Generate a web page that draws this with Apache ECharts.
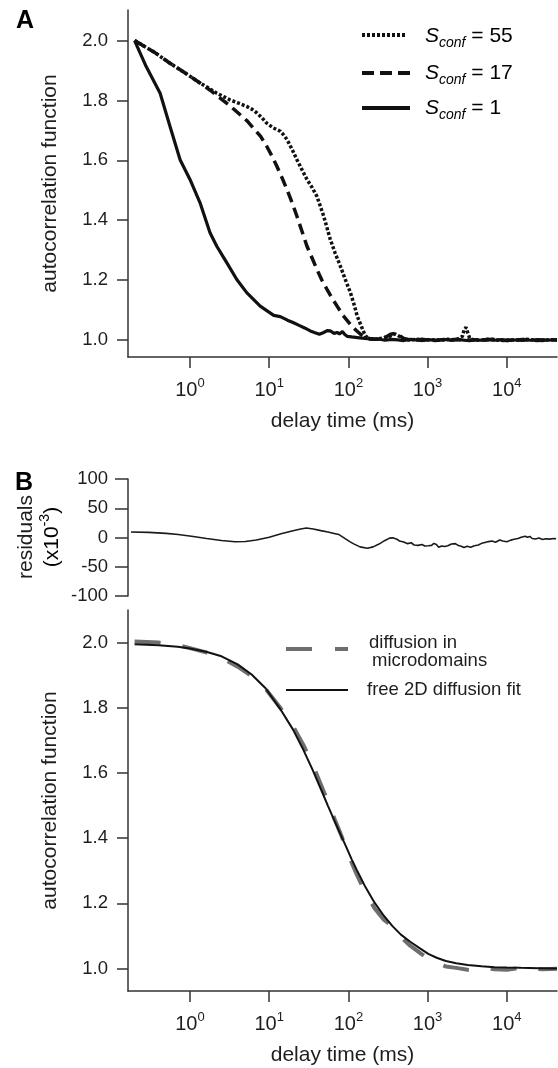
<!DOCTYPE html>
<html><head><meta charset="utf-8">
<script src="https://cdn.jsdelivr.net/npm/echarts@6/dist/echarts.min.js"></script>
<style>html,body{margin:0;padding:0;background:#fff}#c{width:558px;height:1068px}</style>
</head><body><div id="c"></div>
<script>
// ---- tick values ----
const xTicks = [1, 10, 100, 1000, 10000];
const yTicksMain = [1.0, 1.2, 1.4, 1.6, 1.8, 2.0];
const residTicks = [-100, -50, 0, 50, 100];

// ---- Panel A: [delay time (ms), G] ----
const sconf1 = [[0.2,2.000],[0.28,1.913],[0.42,1.824],[0.56,1.713],[0.75,1.602],[1.0,1.536],[1.34,1.458],[1.79,1.358],[2.18,1.313],[2.91,1.258],[3.9,1.202],[5.2,1.158],[7.7,1.113],[11.4,1.082],[13.8,1.078],[17,1.066],[20,1.058],[24.6,1.047],[28,1.040],[33,1.030],[38,1.024],[43,1.019],[48,1.024],[54,1.031],[59,1.030],[66,1.022],[72,1.025],[77,1.020],[84,1.028],[90,1.018],[97,1.012],[110,1.010],[130,1.008],[150,1.006],[175,1.004],[200,1.002],[240,1.003],[290,0.999],[350,1.002],[420,1.000],[500,0.998],[600,1.002],[720,1.000],[860,0.998],[1000,1.001],[1300,0.999],[1600,1.002],[2000,0.999],[2500,1.001],[3100,0.998],[3800,1.001],[4600,0.999],[5600,1.002],[7000,0.999],[8500,1.001],[10000,0.998],[13000,1.000],[16000,1.002],[20000,0.999],[25000,1.001],[31000,0.999],[37000,1.000],[43000,1.000]];
const sconf17 = [[0.2,2.000],[0.35,1.962],[0.56,1.924],[0.9,1.889],[1.34,1.858],[1.8,1.834],[2.4,1.808],[3.2,1.782],[4.3,1.752],[5.3,1.731],[6.3,1.708],[7.8,1.680],[9.3,1.647],[10.8,1.615],[12.5,1.580],[14.5,1.542],[16.8,1.502],[19.5,1.458],[22.4,1.413],[26,1.362],[30,1.313],[35,1.272],[40,1.236],[46,1.201],[53.7,1.169],[62,1.140],[72,1.113],[85,1.083],[106,1.052],[124,1.033],[142,1.019],[160,1.010],[185,1.005],[220,1.002],[260,1.004],[300,1.010],[340,1.019],[390,1.022],[440,1.015],[500,1.005],[580,1.001],[700,0.999],[850,1.002],[1000,1.000],[1250,0.998],[1550,1.001],[1900,0.999],[2300,1.002],[2800,1.000],[3400,0.998],[4200,1.001],[5200,0.999],[6500,1.002],[8000,1.000],[10000,0.998],[12500,1.001],[15500,0.999],[19500,1.001],[24000,0.998],[30000,1.000],[37000,1.001],[43000,1.000]];
const sconf55 = [[0.2,2.000],[0.35,1.962],[0.56,1.924],[0.9,1.889],[1.34,1.858],[1.75,1.840],[2.18,1.824],[2.7,1.812],[3.2,1.802],[4.2,1.790],[5.2,1.780],[6.1,1.770],[7.0,1.758],[8.1,1.742],[9.3,1.724],[11.3,1.708],[13.8,1.697],[15.2,1.685],[16.8,1.669],[19.5,1.636],[22.4,1.602],[26,1.568],[30,1.536],[35,1.508],[40,1.480],[44,1.448],[48.8,1.413],[53.5,1.376],[59,1.336],[68,1.290],[79,1.247],[91,1.203],[106,1.158],[118,1.118],[129,1.080],[146,1.045],[164,1.013],[185,1.004],[220,1.002],[270,1.006],[330,1.012],[390,1.020],[440,1.012],[500,1.003],[600,1.000],[750,1.002],[900,0.999],[1100,1.001],[1400,0.999],[1800,1.002],[2300,1.000],[2750,1.012],[2900,1.035],[3050,1.042],[3200,1.025],[3400,1.006],[3800,1.000],[4700,0.999],[5800,1.002],[7200,1.000],[9000,0.998],[11000,1.001],[14000,0.999],[17500,1.002],[22000,1.000],[28000,0.998],[35000,1.001],[43000,1.000]];

// ---- Panel B ----
const microdomains = [[0.2,2.003],[0.4,2.000],[0.7,1.992],[1.0,1.983],[1.6,1.970],[2.5,1.953],[4.0,1.926],[6.0,1.897],[9.0,1.858],[13.8,1.800],[20,1.743],[27,1.686],[35,1.628],[45,1.564],[55,1.512],[67,1.458],[80,1.413],[92,1.374],[110,1.325],[128,1.288],[160,1.237],[214,1.185],[280,1.150],[360,1.129],[460,1.097],[603,1.070],[800,1.048],[1020,1.029],[1300,1.020],[1700,1.006],[2300,1.002],[3200,0.996],[4000,0.994],[4800,0.995],[6000,1.000],[7000,0.998],[10000,0.996],[13000,1.000],[17000,1.003],[21000,1.000],[28000,0.998],[43000,0.999]];
const freeFit = [[0.2,1.995],[0.4,1.992],[0.7,1.987],[1.0,1.982],[1.6,1.972],[2.5,1.958],[4.0,1.933],[6.0,1.902],[9.0,1.860],[13.8,1.796],[20,1.733],[27,1.671],[35,1.612],[45,1.550],[55,1.500],[67,1.452],[80,1.410],[92,1.378],[110,1.335],[128,1.302],[160,1.255],[214,1.202],[280,1.162],[360,1.130],[460,1.104],[603,1.082],[800,1.062],[1020,1.045],[1300,1.033],[1700,1.023],[2300,1.016],[3200,1.011],[4800,1.007],[7000,1.004],[10000,1.003],[15000,1.002],[25000,1.001],[43000,1.000]];
const residuals = [[0.18,9.4],[0.3,8.8],[0.5,7.0],[0.71,5.2],[1.1,1.8],[1.62,-1.7],[2.5,-5.0],[3.7,-7.2],[5.0,-6.8],[6.9,-4.4],[10,0.5],[14.5,6.7],[20,11.5],[25,14.5],[29.5,16.1],[36,14.5],[45,11.8],[55,9.5],[66,7.0],[76,5.0],[90,-1.5],[104,-7.0],[115,-10.5],[140,-16.0],[174,-18.3],[205,-16.0],[240,-11.7],[290,-5.0],[330,-1.0],[363,-0.6],[410,-3.0],[450,-6.5],[490,-7.2],[560,-10.5],[620,-9.0],[676,-12.8],[760,-13.5],[850,-12.0],[920,-14.4],[1020,-14.0],[1120,-13.5],[1200,-10.0],[1290,-12.0],[1380,-16.7],[1500,-14.5],[1650,-15.5],[1800,-14.0],[2000,-11.0],[2240,-10.5],[2450,-13.8],[2650,-15.0],[2880,-17.2],[3150,-15.0],[3500,-16.5],[3900,-14.0],[4370,-12.8],[4800,-10.0],[5300,-8.5],[5890,-7.0],[6500,-6.0],[7200,-8.0],[8130,-4.4],[8900,-6.0],[10000,-7.2],[11200,-4.5],[12400,-3.0],[13800,-1.7],[15200,0.5],[16000,-1.5],[17000,2.2],[18200,0.5],[19500,1.8],[20900,-1.7],[23000,-2.5],[25500,-1.0],[28200,-3.3],[31000,-2.0],[34500,-2.8],[38900,-1.7],[42000,-2.2]];

const FONT = "'Liberation Sans', Arial, Helvetica, sans-serif";
const AX = '#333';
const TXT = '#1e1e1e';

function xAxis(gridIndex, visible) {
  return {
    type: 'log', logBase: 10, gridIndex, min: 0.165, max: 43000, show: visible,
    axisLine: { show: true, onZero: false, lineStyle: { color: AX, width: 1.5 } },
    axisTick: { show: true, customValues: xTicks, length: 11, lineStyle: { color: AX, width: 1.5 } },
    axisLabel: {
      show: true, customValues: xTicks, margin: 20,
      formatter: v => '{b|10}{s|' + Math.round(Math.log10(v)) + '}',
      rich: {
        b: { fontSize: 20, fontFamily: FONT, color: TXT },
        s: { fontSize: 13, fontFamily: FONT, color: TXT, padding: [0, 0, 14, 0] }
      }
    },
    splitLine: { show: false }, minorTick: { show: false },
    name: visible ? 'delay time (ms)' : '', nameLocation: 'middle', nameGap: 54,
    nameTextStyle: { fontSize: 21, fontFamily: FONT, color: TXT }
  };
}
function yMain(gridIndex, min, max) {
  return {
    type: 'value', gridIndex, min, max,
    axisLine: { show: true, onZero: false, lineStyle: { color: AX, width: 1.5 } },
    axisTick: { show: true, customValues: yTicksMain, length: 11, lineStyle: { color: AX, width: 1.5 } },
    axisLabel: { customValues: yTicksMain, margin: 20, formatter: v => v.toFixed(1),
      fontSize: 18.5, fontFamily: FONT, color: TXT },
    splitLine: { show: false },
    name: 'autocorrelation function', nameLocation: 'middle', nameGap: 67, nameRotate: 90,
    nameTextStyle: { fontSize: 21, fontFamily: FONT, color: TXT }
  };
}

const option = {
  animation: false,
  backgroundColor: '#fff',
  grid: [
    { left: 128, top: 10, width: 429, height: 347, containLabel: false, outerBoundsMode: 'none' },
    { left: 128, top: 479, width: 429, height: 117, containLabel: false, outerBoundsMode: 'none' },
    { left: 128, top: 610, width: 429, height: 381, containLabel: false, outerBoundsMode: 'none' }
  ],
  xAxis: [xAxis(0, true), xAxis(1, false), xAxis(2, true)],
  yAxis: [
    yMain(0, 0.943, 2.102),
    {
      type: 'value', gridIndex: 1, min: -100, max: 100, interval: 50,
      axisLine: { show: true, onZero: false, lineStyle: { color: AX, width: 1.5 } },
      axisTick: { show: true, length: 13, lineStyle: { color: AX, width: 1.5 } },
      axisLabel: { margin: 20, fontSize: 18.5, fontFamily: FONT, color: TXT },
      splitLine: { show: false }
    },
    yMain(2, 0.931, 2.100)
  ],
  series: [
    { name: 'Sconf = 1', type: 'line', xAxisIndex: 0, yAxisIndex: 0, data: sconf1, showSymbol: false, symbol: 'none',
      lineStyle: { color: '#111', width: 3.2 } },
    { name: 'Sconf = 17', type: 'line', xAxisIndex: 0, yAxisIndex: 0, data: sconf17, showSymbol: false, symbol: 'none',
      lineStyle: { color: '#111', width: 3.5, type: [11, 6] } },
    { name: 'Sconf = 55', type: 'line', xAxisIndex: 0, yAxisIndex: 0, data: sconf55, showSymbol: false, symbol: 'none',
      lineStyle: { color: '#111', width: 3.5, type: [3, 2] } },
    { name: 'residuals', type: 'line', xAxisIndex: 1, yAxisIndex: 1, data: residuals, showSymbol: false, symbol: 'none',
      lineStyle: { color: '#1a1a1a', width: 1.6 } },
    { name: 'diffusion in microdomains', type: 'line', xAxisIndex: 2, yAxisIndex: 2, data: microdomains, showSymbol: false, symbol: 'none',
      lineStyle: { color: '#6e6e6e', width: 4, type: [26, 22] } },
    { name: 'free 2D diffusion fit', type: 'line', xAxisIndex: 2, yAxisIndex: 2, data: freeFit, showSymbol: false, symbol: 'none',
      lineStyle: { color: '#111', width: 2 } }
  ],
  graphic: [
    { type: 'text', left: 16, top: 9, style: { text: 'A', font: 'bold 25px ' + FONT, fill: '#000' } },
    { type: 'text', left: 15, top: 471, style: { text: 'B', font: 'bold 25px ' + FONT, fill: '#000' } },
    // legend A
    { type: 'line', shape: { x1: 362, y1: 35, x2: 405, y2: 35 }, style: { stroke: '#111', lineWidth: 4, lineDash: [3, 2] } },
    { type: 'line', shape: { x1: 362, y1: 73, x2: 410, y2: 73 }, style: { stroke: '#111', lineWidth: 4, lineDash: [12, 6] } },
    { type: 'line', shape: { x1: 362, y1: 108, x2: 410, y2: 108 }, style: { stroke: '#111', lineWidth: 4 } },
    ...[['55', 36], ['17', 73], ['1', 108]].map(([v, y]) => ({
      type: 'text', x: 425, y: y,
      style: {
        text: '{i|S}{sub|conf}{n| = ' + v + '}', verticalAlign: 'middle', align: 'left',
        rich: {
          i: { fontSize: 21, fontStyle: 'italic', fontFamily: FONT, color: TXT },
          sub: { fontSize: 14, fontStyle: 'italic', fontFamily: FONT, color: TXT, padding: [14, 0, 0, 0] },
          n: { fontSize: 21, fontFamily: FONT, color: TXT }
        }
      }
    })),
    // legend B
    { type: 'line', shape: { x1: 286, y1: 649, x2: 348, y2: 649 }, style: { stroke: '#6e6e6e', lineWidth: 4, lineDash: [26, 23] } },
    { type: 'line', shape: { x1: 286, y1: 690, x2: 348, y2: 690 }, style: { stroke: '#111', lineWidth: 2 } },
    { type: 'text', x: 369, y: 643, style: { text: 'diffusion in', font: '18.5px ' + FONT, fill: TXT, verticalAlign: 'middle' } },
    { type: 'text', x: 372, y: 661, style: { text: 'microdomains', font: '18.5px ' + FONT, fill: TXT, verticalAlign: 'middle' } },
    { type: 'text', x: 367, y: 690, style: { text: 'free 2D diffusion fit', font: '18.5px ' + FONT, fill: TXT, verticalAlign: 'middle' } },
    // residual axis title
    { type: 'text', x: 26, y: 537, rotation: Math.PI / 2,
      style: { text: 'residuals', font: '21px ' + FONT, fill: TXT, align: 'center', verticalAlign: 'middle' } },
    { type: 'text', x: 52, y: 537, rotation: Math.PI / 2,
      style: { text: '{a|(x10}{s|-3}{a|)}', align: 'center', verticalAlign: 'middle',
        rich: { a: { fontSize: 21, fontFamily: FONT, color: TXT }, s: { fontSize: 14, fontFamily: FONT, color: TXT, padding: [0, 0, 14, 0] } } } }
  ]
};
const chart = echarts.init(document.getElementById('c'), null, { renderer: 'canvas' });
chart.setOption(option);
</script>
</body></html>
